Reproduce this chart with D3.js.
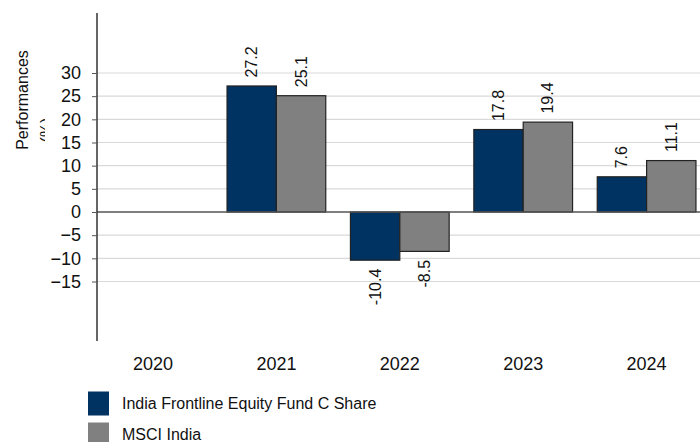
<!DOCTYPE html>
<html>
<head>
<meta charset="utf-8">
<script src="https://cdn.jsdelivr.net/npm/d3@7"></script>
<style>
html,body{margin:0;padding:0;background:#fff;}
svg{display:block;font-family:"Liberation Sans",Arial,sans-serif;}
</style>
</head>
<body>
<svg id="chart" width="700" height="442"></svg>
<script>
const years = ["2020", "2021", "2022", "2023", "2024"];
const seriesNames = ["India Frontline Equity Fund C Share", "MSCI India"];
const fundValues = [null, 27.2, -10.4, 17.8, 7.6];
const indexValues = [null, 25.1, -8.5, 19.4, 11.1];
const yTicks = [-15, -10, -5, 0, 5, 10, 15, 20, 25, 30];
const colors = ["#003362", "#808080"];

const svg = d3.select("#chart");
const W = 700;
const axisX = 97;

const y = d3.scaleLinear().domain([-27.84, 42.95]).range([341, 13]);
const x0 = d3.scaleBand().domain(years).range([91.3, 708.3]).paddingInner(0.2).paddingOuter(0.1);
const x1 = d3.scaleBand().domain([0, 1]).range([0, x0.bandwidth()]);

// gridlines
svg.append("g").selectAll("line").data(yTicks.filter(d => d !== 0)).join("line")
  .attr("x1", axisX).attr("x2", W)
  .attr("y1", d => y(d)).attr("y2", d => y(d))
  .attr("stroke", "#d9d9d9").attr("stroke-width", 1.2);

// bars
const rows = years.map((yr, i) => ({ yr, vals: [fundValues[i], indexValues[i]] }));
const groups = svg.append("g").selectAll("g").data(rows).join("g")
  .attr("transform", d => `translate(${x0(d.yr)},0)`);
groups.selectAll("rect").data(d => d.vals.map((v, k) => ({ v, k })).filter(e => e.v !== null)).join("rect")
  .attr("x", e => x1(e.k))
  .attr("width", x1.bandwidth())
  .attr("y", e => y(Math.max(0, e.v)))
  .attr("height", e => Math.abs(y(e.v) - y(0)))
  .attr("fill", e => colors[e.k])
  .attr("stroke", "#222")
  .attr("stroke-width", 1.2);

// value labels
groups.selectAll("text").data(d => d.vals.map((v, k) => ({ v, k })).filter(e => e.v !== null)).join("text")
  .attr("transform", e => {
    const cx = x1(e.k) + x1.bandwidth() / 2;
    const cy = e.v >= 0 ? y(e.v) - 8.5 : y(e.v) + 8.5;
    return `translate(${cx},${cy}) rotate(-90)`;
  })
  .attr("text-anchor", e => e.v >= 0 ? "start" : "end")
  .attr("dominant-baseline", "central")
  .attr("font-size", 16)
  .attr("fill", "#111")
  .text(e => e.v.toFixed(1));

// zero line
svg.append("line").attr("x1", axisX).attr("x2", W).attr("y1", y(0)).attr("y2", y(0))
  .attr("stroke", "#555").attr("stroke-width", 1.5);

// y axis
const yAxis = d3.axisLeft(y).tickValues(yTicks).tickSize(5).tickPadding(11).tickFormat(d3.format("d"));
const gy = svg.append("g").attr("transform", `translate(${axisX},0)`).call(yAxis);
gy.select(".domain").attr("stroke", "#333").attr("stroke-width", 1.5).attr("d", `M0,${y.range()[1]}V${y.range()[0]}`);
gy.selectAll(".tick line").attr("stroke", "#555");
gy.selectAll(".tick text").attr("font-size", 18).attr("fill", "#111").attr("font-family", "Liberation Sans, Arial, sans-serif");

// x labels
svg.append("g").selectAll("text").data(years).join("text")
  .attr("x", d => x0(d) + x0.bandwidth() / 2)
  .attr("y", 370)
  .attr("text-anchor", "middle")
  .attr("font-size", 18)
  .attr("fill", "#111")
  .text(d => d);

// y title
const defs = svg.append("defs");
defs.append("clipPath").attr("id", "titleclip").append("rect").attr("x", 0).attr("y", 0).attr("width", 45).attr("height", 200);
const tg = svg.append("g").attr("clip-path", "url(#titleclip)");
tg.append("text").attr("transform", "translate(28,100) rotate(-90)")
  .attr("text-anchor", "middle").attr("font-size", 16).attr("fill", "#111").text("Performances");
tg.append("text").attr("transform", "translate(52,130) rotate(-90)")
  .attr("text-anchor", "middle").attr("font-size", 16).attr("fill", "#111").text("(%)");

// legend
const legCenters = [403.5, 434.5];
const leg = svg.append("g").selectAll("g").data(seriesNames).join("g");
leg.append("rect").attr("x", 88).attr("width", 21).attr("height", 24)
  .attr("y", (d, i) => legCenters[i] - 12).attr("fill", (d, i) => colors[i]);
leg.append("text").attr("x", 122).attr("y", (d, i) => legCenters[i] + 5.8)
  .attr("font-size", 16).attr("fill", "#111").text(d => d);
</script>
</body>
</html>
